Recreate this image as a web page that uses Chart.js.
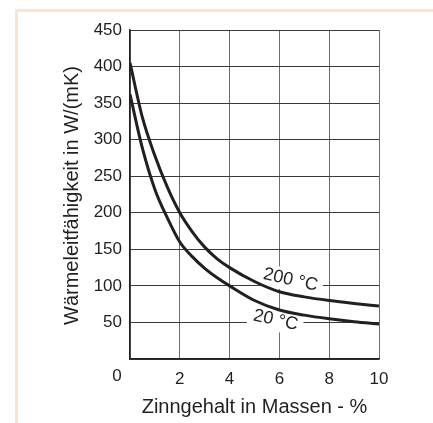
<!DOCTYPE html>
<html>
<head>
<meta charset="utf-8">
<script src="https://cdn.jsdelivr.net/npm/chart.js@4/dist/chart.umd.min.js"></script>
<style>
  body { margin: 0; background: #fff; }
  #wrap { position: relative; width: 433px; height: 423px; overflow: hidden; }
  #frame {
    position: absolute; left: 15px; top: 9px; width: 600px; height: 600px;
    border-top: 3px solid #fde4d1; border-left: 3px solid #fde4d1;
  }
  #myChart { position: absolute; left: 0; top: 0; }
</style>
</head>
<body>
<div id="wrap">
  <div id="frame"></div>
  <canvas id="myChart" width="433" height="423"></canvas>
</div>
<script>
// tin content in mass-% and conductivity at 200 °C / 20 °C
const xValues = [0, 0.5, 1, 1.5, 2, 2.5, 3, 3.5, 4, 5, 6, 7, 8, 9, 10];
const temp200 = [405, 330, 278, 235, 200, 174, 153, 137, 125, 106, 92, 85, 80, 76, 72.5];
const temp20 = [362, 288, 232, 193, 160, 140, 124, 111, 100, 80, 67, 60, 55, 51, 48];

const curveLabels = [
  { text: '200 °C', x: 6.45, y: 108 },
  { text: '20 °C', x: 5.85, y: 53 },
];

const xTitle = 'Zinngehalt in Massen - %';
const yTitle = 'Wärmeleitfähigkeit in W/(mK)';

const ink = '#231f20';
const fontFamily = '"Liberation Sans", Arial, sans-serif';

const toPoints = (ys) => xValues.map((x, i) => ({ x, y: ys[i] }));

// white boxes behind the curve names, text on top of them
const curveLabelPlugin = {
  id: 'curveLabels',
  beforeDatasetsDraw(chart) {
    const { ctx, scales } = chart;
    ctx.save();
    ctx.font = `18px ${fontFamily}`;
    ctx.textAlign = 'center';
    ctx.textBaseline = 'middle';
    curveLabels.forEach((lbl) => {
      const px = scales.x.getPixelForValue(lbl.x);
      const py = scales.y.getPixelForValue(lbl.y);
      const w = ctx.measureText(lbl.text).width;
      ctx.save();
      ctx.translate(px, py);
      ctx.rotate(0.22);
      ctx.fillStyle = '#fff';
      ctx.fillRect(-w / 2 - 5, -11, w + 10, 22);
      ctx.fillStyle = ink;
      ctx.fillText(lbl.text, 0, 0);
      ctx.restore();
    });
    ctx.restore();
  },
};

// axis titles and the shared origin label
const axisTextPlugin = {
  id: 'axisText',
  afterDraw(chart) {
    const { ctx, scales, chartArea } = chart;
    ctx.save();
    ctx.fillStyle = ink;
    ctx.textAlign = 'center';
    ctx.textBaseline = 'middle';
    ctx.font = `17px ${fontFamily}`;
    ctx.fillText('0', scales.x.left - 13, scales.y.bottom + 17);
    ctx.font = `20px ${fontFamily}`;
    ctx.fillText(xTitle, (chartArea.left + chartArea.right) / 2, 407);
    ctx.translate(72, (chartArea.top + chartArea.bottom) / 2 + 1);
    ctx.rotate(-Math.PI / 2);
    ctx.fillText(yTitle, 0, 0);
    ctx.restore();
  },
};

const conductivityChart = new Chart(document.getElementById('myChart'), {
  type: 'line',
  data: {
    datasets: [
      {
        data: toPoints(temp200),
        borderColor: ink,
        borderWidth: 3,
        pointRadius: 0,
        fill: false,
        cubicInterpolationMode: 'monotone',
      },
      {
        data: toPoints(temp20),
        borderColor: ink,
        borderWidth: 3,
        pointRadius: 0,
        fill: false,
        cubicInterpolationMode: 'monotone',
      },
    ],
  },
  options: {
    responsive: false,
    animation: false,
    events: [],
    layout: { padding: { left: 0, top: 30, right: 54, bottom: 0 } },
    plugins: { legend: { display: false }, tooltip: { enabled: false } },
    scales: {
      x: {
        type: 'linear',
        min: 0,
        max: 10,
        afterFit: (scale) => { scale.height = 64; },
        ticks: {
          stepSize: 2,
          padding: 10,
          color: ink,
          font: { family: fontFamily, size: 17 },
          callback: (v) => (v === 0 ? '' : v),
        },
        grid: { color: '#6d6d6d', lineWidth: 1, drawTicks: false },
        border: { color: ink, width: 1.5 },
      },
      y: {
        type: 'linear',
        min: 0,
        max: 450,
        afterFit: (scale) => { scale.width = 130; },
        ticks: {
          stepSize: 50,
          padding: 8,
          color: ink,
          font: { family: fontFamily, size: 17 },
          callback: (v) => (v === 0 ? '' : v),
        },
        grid: { color: '#3a3a3a', lineWidth: 1, drawTicks: false },
        border: { color: ink, width: 1.5 },
      },
    },
  },
  plugins: [curveLabelPlugin, axisTextPlugin],
});
</script>
</body>
</html>
